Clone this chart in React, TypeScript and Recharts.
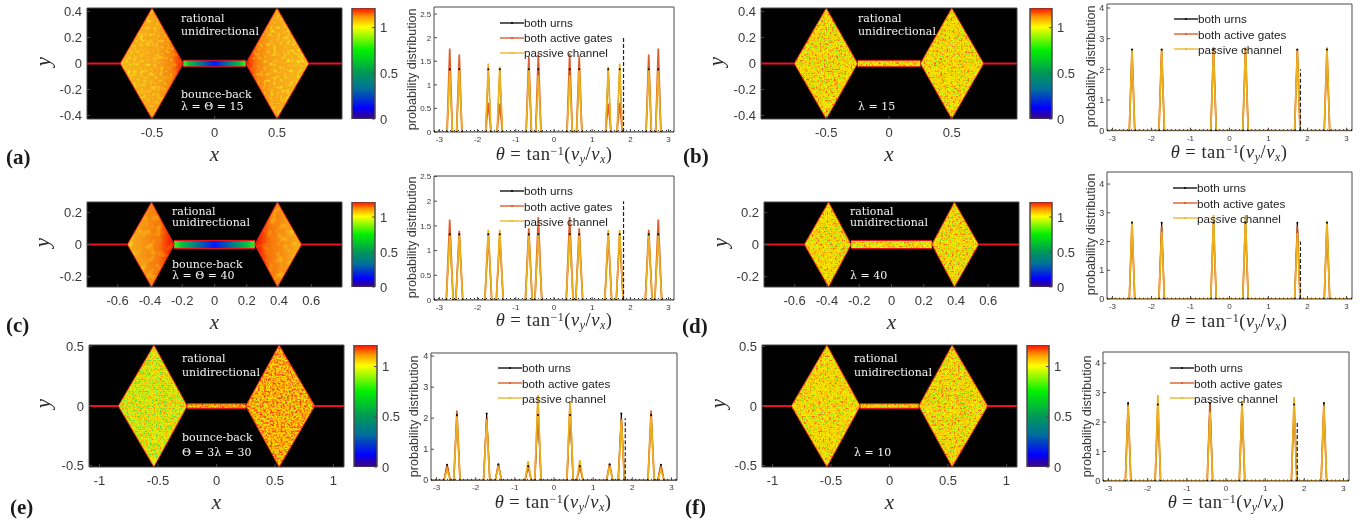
import React from 'react';
import { ComposedChart, Line, Area, Bar, XAxis, YAxis, CartesianGrid, ReferenceLine, Legend } from 'recharts';

const SANS = '"Liberation Sans", Arial, sans-serif';
const SERIF = '"Liberation Serif", serif';
const AXIS = '#4a4a4a';
const TXT = '#3a3a3a';

// ---------- angular distributions: peak angle, then heights per series
const thetaWide = [-2.73, -2.48, -1.72, -1.42, -0.66, -0.41, 0.41, 0.66, 1.42, 1.72, 2.48, 2.73];
const thetaSix = [-2.5, -1.74, -0.41, 0.41, 1.74, 2.5];

const urnsA = [1.33, 1.33, 1.33, 1.33, 1.33, 1.33, 1.33, 1.33, 1.33, 1.33, 1.33, 1.33];
const gatesA = [1.77, 1.64, 0.62, 0.6, 1.6, 1.65, 1.67, 1.6, 0.6, 0.62, 1.64, 1.77];
const passiveA = [1.3, 1.33, 1.45, 1.38, 1.33, 1.2, 1.2, 1.33, 1.38, 1.45, 1.33, 1.3];

const urnsB = [2.65, 2.65, 2.65, 2.65, 2.65, 2.65];
const gatesB = [2.65, 2.65, 2.72, 2.65, 2.65, 2.65];
const passiveB = [2.62, 2.62, 2.6, 2.72, 2.6, 2.72];

const urnsC = [1.33, 1.33, 1.33, 1.33, 1.33, 1.33, 1.33, 1.33, 1.33, 1.33, 1.33, 1.33];
const gatesC = [1.63, 1.4, 1.35, 1.33, 1.45, 1.68, 1.68, 1.45, 1.33, 1.33, 1.42, 1.63];
const passiveC = [1.3, 1.3, 1.42, 1.42, 1.3, 1.33, 1.33, 1.3, 1.42, 1.42, 1.3, 1.3];

const urnsD = [2.65, 2.65, 2.65, 2.65, 2.65, 2.65];
const gatesD = [2.65, 2.55, 2.65, 2.65, 2.55, 2.65];
const passiveD = [2.72, 2.35, 2.92, 2.92, 2.3, 2.72];

const urnsE = [0.5, 2.1, 2.15, 0.52, 0.45, 2.1, 2.1, 0.45, 0.52, 2.15, 2.1, 0.5];
const gatesE = [0.5, 2.25, 2.0, 0.52, 0.45, 2.5, 2.5, 0.45, 0.52, 2.0, 2.25, 0.5];
const passiveE = [0.35, 2.05, 1.95, 0.45, 0.62, 2.75, 2.55, 0.65, 0.45, 1.95, 2.05, 0.35];

const urnsF = [2.65, 2.6, 2.65, 2.6, 2.6, 2.65];
const gatesF = [2.6, 2.6, 2.65, 2.6, 2.6, 2.6];
const passiveF = [2.55, 2.92, 2.35, 2.72, 2.85, 2.55];

const thetaTicks = [-3, -2, -1, 0, 1, 2, 3];
const probTicksShort = [0, 0.5, 1, 1.5, 2, 2.5];
const probTicksTall = [0, 1, 2, 3, 4];
const barrierTheta = 1.82;
const barrierTop = 2;
const floorLevel = 0.03;
const PI_LIMIT = 3.14159;

const seriesNames = ['both urns', 'both active gates', 'passive channel'];
const seriesColors = ['#000000', '#D95319', '#EDB120'];

// ---------- density maps: [xLimit, yLimit, apexX, outerX, innerX, neckHalfHeight]
const shapeAB = [1.02, 0.427, 0.5, 0.755, 0.25, 0.025];
const shapeCD = [0.79, 0.265, 0.39, 0.54, 0.25, 0.025];
const shapeEF = [1.09, 0.513, 0.535, 0.84, 0.25, 0.02];

const xTicksAB = [-0.5, 0, 0.5];
const yTicksAB = [-0.4, -0.2, 0, 0.2, 0.4];
const xTicksCD = [-0.6, -0.4, -0.2, 0, 0.2, 0.4, 0.6];
const yTicksCD = [-0.2, 0, 0.2];
const xTicksEF = [-1, -0.5, 0, 0.5, 1];
const yTicksEF = [-0.5, 0, 0.5];
const colorTicks = [0, 0.5, 1];
const colorMax = 1.215;

function buildPeaks(thetas: number[], urns: number[], gates: number[], passive: number[], halfBase: number) {
  const rows: any[] = [{ t: -PI_LIMIT, u: 0, g: 0, p: 0, f: floorLevel }];
  thetas.forEach((t, i) => {
    rows.push({ t: t - halfBase, u: 0, g: 0, p: 0, f: floorLevel });
    rows.push({ t, u: urns[i], g: gates[i], p: passive[i], f: floorLevel });
    rows.push({ t: t + halfBase, u: 0, g: 0, p: 0, f: floorLevel });
  });
  rows.push({ t: PI_LIMIT, u: 0, g: 0, p: 0, f: floorLevel });
  return rows;
}

function buildShape(s: number[]) {
  const [xm, ym, apex, outer, inner, h] = s;
  return [
    { x: -xm, wire: 0, pin: 0 },
    { x: -outer, wire: 0, left: [0, 0] },
    { x: -apex, left: [-ym, ym] },
    { x: -inner, left: [0, 0], neck: [-h, h] },
    { x: inner, right: [0, 0], neck: [-h, h] },
    { x: apex, right: [-ym, ym] },
    { x: outer, wire: 0, right: [0, 0] },
    { x: xm, wire: 0, pin: 0 },
  ];
}

const T = (p: any) => (
  <div style={{ position: 'absolute', whiteSpace: 'nowrap', lineHeight: 1, ...p.style }}>{p.children}</div>
);

function ThetaLabel({ cx, cy }: { cx: number; cy: number }) {
  const sub = { fontSize: 12, lineHeight: 0, fontStyle: 'italic', verticalAlign: '-0.25em' };
  return (
    <T style={{ left: cx - 70, width: 140, top: cy - 10, textAlign: 'center', fontFamily: SERIF, fontSize: 18.5, color: '#2b2b2b', letterSpacing: 0.5 }}>
      <i>θ</i> = tan<span style={{ fontSize: 12, lineHeight: 0, verticalAlign: '0.45em' }}>−1</span>(<i>v</i><span style={sub}>y</span>/<i>v</i><span style={sub}>x</span>)
    </T>
  );
}

function boxAxes(xKey: string, xDom: number[], yDom: number[], xTicks: number[], yTicks: number[], fx: number, fy: number, mx: number, my: number, padL: number, padB: number) {
  const line = { stroke: AXIS, strokeWidth: 1 };
  const base = { allowDataOverflow: true, interval: 0 as const, axisLine: line, tickLine: line, tickSize: -3 };
  return [
    <XAxis key="xb" {...base} xAxisId="b" dataKey={xKey} type="number" domain={xDom} ticks={xTicks} height={padB} tickMargin={mx} tick={{ fontSize: fx, fill: TXT, fontFamily: SANS }} />,
    <XAxis key="xt" {...base} xAxisId="t" dataKey={xKey} orientation="top" type="number" domain={xDom} ticks={xTicks} height={1} tick={false} />,
    <YAxis key="yl" {...base} yAxisId="l" type="number" domain={yDom} ticks={yTicks} width={padL} tickMargin={my} tick={{ fontSize: fy, fill: TXT, fontFamily: SANS }} />,
    <YAxis key="yr" {...base} yAxisId="r" orientation="right" type="number" domain={yDom} ticks={yTicks} width={1} tick={false} />,
  ];
}

function LegendBox({ payload }: any) {
  const items = seriesNames.map((n) => (payload || []).find((e: any) => e.value === n)).filter(Boolean);
  return (
    <div style={{ fontFamily: SANS, fontSize: 11.7, color: '#222' }}>
      {items.map((e: any) => (
        <div key={e.value} style={{ height: 15.2, display: 'flex', alignItems: 'center', whiteSpace: 'nowrap' }}>
          <svg width={24} height={6} style={{ display: 'block' }}>
            <line x1={0} x2={24} y1={3} y2={3} stroke={e.color} strokeWidth={1.3} />
            <circle cx={12} cy={3} r={1} fill={e.color} />
          </svg>
          <span>{e.value}</span>
        </div>
      ))}
    </div>
  );
}

function Dist({ box, rows, yMax, yTicks, fy, lg, yLab, label }: any) {
  const [x0, y0, x1, y1] = box;
  const padL = 30, padB = 20, padT = 4, padR = 4;
  const w = x1 - x0 + padL + padR;
  const h = y1 - y0 + padB + padT;
  const S = { isAnimationActive: false, type: 'linear' as const, xAxisId: 'b', yAxisId: 'l' };
  return (
    <>
      <div style={{ position: 'absolute', left: x0 - padL, top: y0 - padT }}>
        <ComposedChart width={w} height={h} data={rows} margin={{ top: padT - 1, right: padR - 1, left: 0, bottom: 0 }}>
          {boxAxes('t', [-PI_LIMIT, PI_LIMIT], [0, yMax], thetaTicks, yTicks, 8, fy, 7.5, 5.7, padL, padB)}
          <Line isAnimationActive={false} xAxisId="t" yAxisId="r" dataKey="f" name="frame" legendType="none" stroke="none" dot={false} />
          <Line {...S} dataKey="u" name={seriesNames[0]} stroke={seriesColors[0]} strokeWidth={1} dot={{ r: 1, fill: '#000', stroke: 'none' }} />
          <Line {...S} dataKey="g" name={seriesNames[1]} stroke={seriesColors[1]} strokeWidth={1.7} strokeOpacity={0.92} dot={false} />
          <Line {...S} dataKey="p" name={seriesNames[2]} stroke={seriesColors[2]} strokeWidth={1.7} dot={false} />
          <Line {...S} dataKey="f" name="floor" legendType="none" stroke="#222" strokeWidth={1} strokeDasharray="1 3" dot={false} />
          <ReferenceLine xAxisId="b" yAxisId="l" segment={[{ x: barrierTheta, y: 0 }, { x: barrierTheta, y: barrierTop }]} stroke="#222" strokeWidth={1.2} strokeDasharray="4 2" />
          <Legend content={<LegendBox />} layout="vertical" align="center" verticalAlign="middle" wrapperStyle={{ left: lg[0] - (x0 - padL), top: lg[1] - 7.6 - (y0 - padT), width: 130, bottom: 'auto', right: 'auto' }} />
        </ComposedChart>
      </div>
      <T style={{ left: yLab[0] - 80, width: 160, top: yLab[1] - 7, textAlign: 'center', transform: 'rotate(-90deg)', fontFamily: SANS, fontSize: 12.6, color: TXT }}>probability distribution</T>
      <ThetaLabel cx={label[0]} cy={label[1]} />
    </>
  );
}

const GradDefs = ({ id, seed, cells }: { id: string; seed: number; cells: boolean }) => {
  const stops = cells
    ? [['0', '#fdb822'], ['0.35', '#ff9c1c'], ['0.68', '#ff7e14'], ['0.9', '#ff3008'], ['1', '#ff1000']]
    : [['0', '#fdbf22'], ['0.6', '#ffaa20'], ['0.82', '#ff8a16'], ['0.95', '#ff3a08'], ['1', '#ff1000']];
  return (
    <defs>
      <linearGradient id={id + 'L'} x1="0" x2="1" y1="0" y2="0">
        {stops.map(([o, c]) => <stop key={o} offset={o} stopColor={c} />)}
      </linearGradient>
      <linearGradient id={id + 'R'} x1="1" x2="0" y1="0" y2="0">
        {stops.map(([o, c]) => <stop key={o} offset={o} stopColor={c} />)}
      </linearGradient>
      <linearGradient id={id + 'N'} x1="0" x2="1" y1="0" y2="0">
        <stop offset="0" stopColor="#50e820" />
        <stop offset="0.1" stopColor="#00c040" />
        <stop offset="0.3" stopColor="#00709a" />
        <stop offset="0.5" stopColor="#0018ff" />
        <stop offset="0.7" stopColor="#00709a" />
        <stop offset="0.9" stopColor="#00c040" />
        <stop offset="1" stopColor="#50e820" />
      </linearGradient>
      <filter id={id + 'mot'} x="-5%" y="-5%" width="110%" height="110%" colorInterpolationFilters="sRGB">
        <feTurbulence type="fractalNoise" baseFrequency={cells ? 0.14 : 0.3} numOctaves={2} seed={seed} result="n" />
        <feColorMatrix in="n" type="matrix" values="0 0 0 0 0  1.4 0 0 0 -0.7  0 0 0 0 0  0 0 0 0 1" result="g" />
        <feComposite in="SourceGraphic" in2="g" operator="arithmetic" k1="0" k2="1" k3={cells ? 0.38 : 0.5} k4="-0.03" result="mix" />
        <feComposite in="mix" in2="SourceGraphic" operator="in" />
      </filter>
    </defs>
  );
};

const palettes: Record<string, string[]> = {
  mid: ['.56 .82 1 1 1', '.88 .91 .91 .69 .4', '.12 .06 0 0 .06'],
  cool: ['.36 .66 .88 1 1', '.85 .91 .93 .85 .56', '.2 .12 .06 0 0'],
  warm: ['.75 1 1 1 1', '.88 .88 .69 .44 .22', '.12 0 0 .06 .06'],
};

const Speck = ({ id, tone, seed, freq }: { id: string; tone: string; seed: number; freq: number }) => {
  const p = palettes[tone];
  return (
    <defs>
      <filter id={id} x="-5%" y="-5%" width="110%" height="110%" colorInterpolationFilters="sRGB">
        <feTurbulence type="fractalNoise" baseFrequency={freq} numOctaves={2} seed={seed} result="n" />
        <feColorMatrix in="n" type="matrix" values="2.1 0 0 0 -0.55  2.1 0 0 0 -0.55  2.1 0 0 0 -0.55  0 0 0 0 1" />
        <feComponentTransfer>
          <feFuncR type="table" tableValues={p[0]} />
          <feFuncG type="table" tableValues={p[1]} />
          <feFuncB type="table" tableValues={p[2]} />
        </feComponentTransfer>
        <feComposite in2="SourceGraphic" operator="in" />
      </filter>
    </defs>
  );
};

function Heat({ id, box, shape, xTicks, yTicks, leftTone, rightTone, seed, smooth, cbX, notes, noteX, noteYs, xLabY, yLabX }: any) {
  const [x0, y0, x1, y1] = box;
  const [xm, ym] = shape;
  const padL = 60, padB = 26, padT = 8, padR = 3;
  const rows = buildShape(shape);
  const A = { isAnimationActive: false, type: 'linear' as const, xAxisId: 'b', yAxisId: 'l', dot: false, activeDot: false, connectNulls: false };
  const chamberFilter = (s: string) => (smooth ? `url(#${id}mot)` : `url(#${id}f${s})`);
  return (
    <>
      <div style={{ position: 'absolute', left: x0 - padL, top: y0 - padT }}>
        <ComposedChart width={x1 - x0 + padL + padR} height={y1 - y0 + padB + padT} data={rows} margin={{ top: padT - 1, right: padR - 1, left: 0, bottom: 0 }}>
          {smooth ? <GradDefs id={id} seed={seed} cells={smooth === 'cells'} /> : null}
          {smooth ? null : <Speck id={id + 'fL'} tone={leftTone} seed={seed} freq={0.48} />}
          {smooth ? null : <Speck id={id + 'fR'} tone={rightTone} seed={seed + 3} freq={0.48} />}
          <CartesianGrid xAxisId="b" yAxisId="l" horizontal={false} vertical={false} fill="#000" fillOpacity={1} />
          {boxAxes('x', [-xm, xm], [-ym, ym], xTicks, yTicks, 13, 13, 12, 8, padL, padB)}
          <Line isAnimationActive={false} xAxisId="t" yAxisId="r" dataKey="pin" name="frame" legendType="none" stroke="none" dot={false} />
          <Area {...A} dataKey="left" fill={smooth ? `url(#${id}L)` : '#ffc000'} fillOpacity={1} stroke="none" filter={chamberFilter('L')} />
          <Area {...A} dataKey="right" fill={smooth ? `url(#${id}R)` : '#ffc000'} fillOpacity={1} stroke="none" filter={chamberFilter('R')} />
          <Area {...A} dataKey="neck" fill={smooth ? `url(#${id}N)` : '#ffc000'} fillOpacity={1} stroke="none" filter={smooth ? undefined : `url(#${id}fR)`} />
          <Area {...A} dataKey="left" fill="none" stroke="#ee2222" strokeWidth={1} />
          <Area {...A} dataKey="right" fill="none" stroke="#ee2222" strokeWidth={1} />
          <Area {...A} dataKey="neck" fill="none" stroke="#e8101c" strokeWidth={1.1} />
          <Line {...A} dataKey="wire" stroke="#ee0f20" strokeWidth={1.8} />
        </ComposedChart>
      </div>
      {notes.map((n: any, i: number) => (
        <T key={i} style={{ left: noteX, top: noteYs[i] - 6, fontFamily: '"DejaVu Serif", serif', fontSize: 11, color: '#f4f4f4', fontWeight: 500 }}>{n}</T>
      ))}
      <T style={{ left: (x0 + x1) / 2 - 8, width: 16, textAlign: 'center', top: xLabY - 11, fontFamily: SERIF, fontStyle: 'italic', fontSize: 21, color: '#2b2b2b' }}>x</T>
      <T style={{ left: yLabX - 8, width: 16, textAlign: 'center', top: (y0 + y1) / 2 - 13, fontFamily: SERIF, fontStyle: 'italic', fontSize: 21, color: '#2b2b2b', transform: 'rotate(-90deg)' }}>y</T>
      <ColorBar id={id} x0={cbX[0]} x1={cbX[1]} y0={y0} y1={y1} />
    </>
  );
}

const colorRow = [{ name: 'scale', v: colorMax }];

function ColorBar({ id, x0, x1, y0, y1 }: any) {
  const padR = 30, padT = 3, padB = 8, padL = 1;
  const line = { stroke: AXIS, strokeWidth: 1 };
  const base = { type: 'number' as const, domain: [0, colorMax], ticks: colorTicks, interval: 0 as const, axisLine: line, tickLine: line, tickSize: -3, allowDataOverflow: true };
  return (
    <div style={{ position: 'absolute', left: x0 - padL, top: y0 - padT }}>
      <ComposedChart width={x1 - x0 + padR + padL} height={y1 - y0 + padT + padB} data={colorRow} barCategoryGap={0} margin={{ top: padT, right: 0, left: 0, bottom: padB }}>
        <defs>
          <linearGradient id={id + 'cb'} x1="0" x2="0" y1="1" y2="0">
            <stop offset="0" stopColor="#3c0a80" />
            <stop offset="0.05" stopColor="#2400b8" />
            <stop offset="0.1" stopColor="#0000ff" />
            <stop offset="0.27" stopColor="#00709a" />
            <stop offset="0.42" stopColor="#009a55" />
            <stop offset="0.62" stopColor="#00f000" />
            <stop offset="0.83" stopColor="#ffff00" />
            <stop offset="0.92" stopColor="#ff9800" />
            <stop offset="1" stopColor="#ff0a00" />
          </linearGradient>
        </defs>
        <XAxis dataKey="name" type="category" hide />
        <YAxis {...base} yAxisId="a" width={padL} tick={false} />
        <YAxis {...base} yAxisId="b" orientation="right" width={padR} tickMargin={8} tick={{ fontSize: 13, fill: TXT, fontFamily: SANS }} />
        <Bar yAxisId="b" dataKey="v" isAnimationActive={false} fill={`url(#${id}cb)`} stroke={AXIS} strokeWidth={1} />
      </ComposedChart>
    </div>
  );
}

const Tag = ({ x, y, c }: { x: number; y: number; c: string }) => (
  <T style={{ left: x, top: y - 11, fontFamily: SERIF, fontSize: 21, fontWeight: 700, color: '#1a1a1a' }}>({c})</T>
);

export default function App() {
  return (
    <div style={{ position: 'absolute', left: 0, top: 0, width: 1364, height: 523, overflow: 'hidden', background: '#fff', filter: 'blur(0.35px)' }}>
      <Heat id="a" box={[87, 8, 342, 119]} shape={shapeAB} xTicks={xTicksAB} yTicks={yTicksAB} smooth="fine" seed={2} cbX={[352, 375]}
        notes={['rational', 'unidirectional', 'bounce-back', <>λ = Θ = 15</>]} noteX={181} noteYs={[19, 32, 95, 107]} xLabY={155} yLabX={43} />
      <Dist box={[433.5, 6.7, 673.5, 131.7]} rows={buildPeaks(thetaWide, urnsA, gatesA, passiveA, 0.07)} yMax={2.65} yTicks={probTicksShort} fy={8} lg={[500, 22.6]} yLab={[412, 70]} label={[554, 155]} />

      <Heat id="b" box={[761, 8, 1017, 119]} shape={shapeAB} xTicks={xTicksAB} yTicks={yTicksAB} leftTone="mid" rightTone="mid" seed={11} cbX={[1030, 1052]}
        notes={['rational', 'unidirectional', <>λ = 15</>]} noteX={858} noteYs={[19, 32, 107]} xLabY={155} yLabX={716} />
      <Dist box={[1107, 4, 1352, 130.7]} rows={buildPeaks(thetaSix, urnsB, gatesB, passiveB, 0.07)} yMax={4.13} yTicks={probTicksTall} fy={9} lg={[1174, 19]} yLab={[1091, 67]} label={[1229, 153]} />

      <Heat id="c" box={[87, 202, 342, 287]} shape={shapeCD} xTicks={xTicksCD} yTicks={yTicksCD} smooth="cells" seed={5} cbX={[352, 375]}
        notes={['rational', 'unidirectional', 'bounce-back', <>λ = Θ = 40</>]} noteX={172} noteYs={[212, 223, 265, 276]} xLabY={323} yLabX={42} />
      <Dist box={[434, 176, 674, 300]} rows={buildPeaks(thetaWide, urnsC, gatesC, passiveC, 0.09)} yMax={2.51} yTicks={probTicksShort} fy={8} lg={[500, 191]} yLab={[412, 238]} label={[554, 321]} />

      <Heat id="d" box={[764, 202, 1019, 287]} shape={shapeCD} xTicks={xTicksCD} yTicks={yTicksCD} leftTone="mid" rightTone="mid" seed={17} cbX={[1030, 1052]}
        notes={['rational', 'unidirectional', <>λ = 40</>]} noteX={850} noteYs={[212, 223, 276]} xLabY={323} yLabX={720} />
      <Dist box={[1107, 172, 1352, 299]} rows={buildPeaks(thetaSix, urnsD, gatesD, passiveD, 0.07)} yMax={4.42} yTicks={probTicksTall} fy={9} lg={[1173, 188]} yLab={[1091, 235]} label={[1229, 322]} />

      <Heat id="e" box={[89, 345, 344, 467]} shape={shapeEF} xTicks={xTicksEF} yTicks={yTicksEF} leftTone="cool" rightTone="warm" seed={23} cbX={[354, 377]}
        notes={['rational', 'unidirectional', 'bounce-back', <>Θ = 3λ = 30</>]} noteX={182} noteYs={[359, 373, 438, 453]} xLabY={503} yLabX={43} />
      <Dist box={[431, 352.7, 677, 480]} rows={buildPeaks(thetaWide, urnsE, gatesE, passiveE, 0.08)} yMax={4.1} yTicks={probTicksTall} fy={9} lg={[498, 368]} yLab={[414, 417]} label={[553, 503]} />

      <Heat id="f" box={[762, 345, 1017, 467]} shape={shapeEF} xTicks={xTicksEF} yTicks={yTicksEF} leftTone="mid" rightTone="mid" seed={31} cbX={[1027, 1049]}
        notes={['rational', 'unidirectional', <>λ = 10</>]} noteX={854} noteYs={[359, 373, 453]} xLabY={503} yLabX={718} />
      <Dist box={[1103, 352, 1349, 481]} rows={buildPeaks(thetaSix, urnsF, gatesF, passiveF, 0.07)} yMax={4.38} yTicks={probTicksTall} fy={9} lg={[1170, 368]} yLab={[1087, 417]} label={[1226, 503]} />

      <Tag x={6} y={158} c="a" />
      <Tag x={683} y={157} c="b" />
      <Tag x={6} y={326} c="c" />
      <Tag x={682} y={327} c="d" />
      <Tag x={10} y={508} c="e" />
      <Tag x={685} y={508} c="f" />
    </div>
  );
}
